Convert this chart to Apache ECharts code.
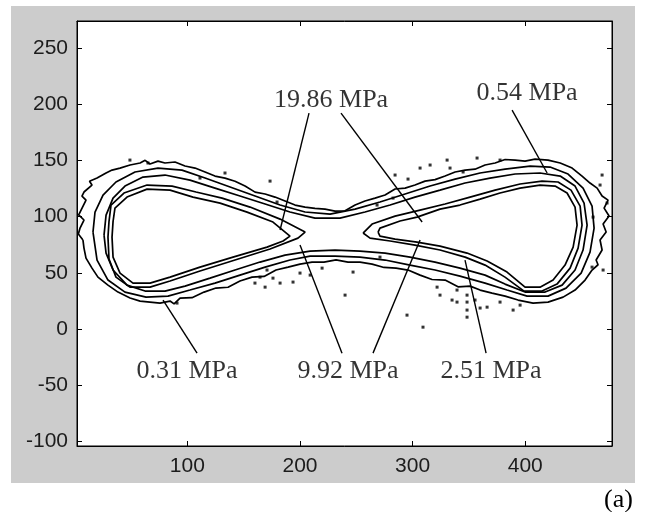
<!DOCTYPE html>
<html>
<head>
<meta charset="utf-8">
<script src="https://cdn.jsdelivr.net/npm/echarts@6/dist/echarts.min.js"></script>
<style>
  html, body { margin: 0; padding: 0; background: #ffffff; }
  #chart { width: 647px; height: 512px; }
</style>
</head>
<body>
<div id="chart"></div>
<script>
// Axis ticks
const xTicks = [100, 200, 300, 400];
const yTicks = [-100, -50, 0, 50, 100, 150, 200, 250];

// Iso-stress contours, [x, y] in image units
const contour031 = [
  [7.3,79.2],[3.2,84.5],[4.7,89.8],[8.2,97],[3.5,101.5],[5.6,105.8],[10,114.7],[6.4,118.2],[8.2,121.9],
  [15.3,128.1],[13.1,131.5],[19.8,134.3],[27.8,138.8],[33.1,141.4],[40.2,143.2],[49.1,145.9],[58,147.7],
  [62.5,150.1],[66.8,146.8],[73.9,149.4],[80.1,147.7],[89,148.6],[97.9,145],[106.8,143.2],[115.7,139.7],
  [124.5,136.1],[133.4,134.3],[142.3,131.5],[151.2,127.2],[160.1,121.8],[169,120.1],[177.8,117.4],
  [186.7,113.9],[195.6,110.3],[204.5,108.5],[213.3,107.4],[222.2,106.7],[231.1,104.9],[240,105.2],
  [248.9,110.3],[257.7,113.9],[266.6,116.5],[275.5,119.2],[284.4,124.6],[293.3,125.4],[302.1,128.1],
  [311,131.6],[319.9,132.9],[328.8,136.1],[337.7,139.7],[346.6,141.4],[355.4,142.2],[364.3,145.9],
  [373.2,147.7],[382.1,150.8],[391,150.3],[399.8,149.4],[408.7,151.2],[420.2,150.3],[431,147.7],
  [441.6,143.2],[450.4,136.1],[457.5,129.9],[463.8,125.4],[468.2,118.3],[473.5,114.7],[470,107.6],
  [474.4,100.5],[469.1,93.4],[471.8,86.3],[466.4,79.2],[468.2,70.3],[462.9,61.4],[464.6,57.2],
  [459.3,52.5],[453.1,43.6],[444.2,34.7],[433.6,28.4],[420.2,24],[406.9,23.1],[393.6,25.8],
  [382.1,29.3],[370.5,32],[359.9,34.7],[351,38.2],[340.3,37.6],[328.8,43.6],[317.2,44.1],
  [306.6,48],[295.9,52.5],[285.3,54.2],[274.6,54.8],[264,57.8],[253.3,59.6],[242.6,59.6],
  [232,61.5],[221.3,59.6],[210.7,59.6],[200,57.8],[189.4,55.1],[178.7,52.5],[168.1,46.8],
  [157.4,46.2],[146.7,42.7],[136.1,37.2],[125.4,36.5],[114.8,32.9],[104.1,27.9],[93.5,27.6],
  [88.2,22.4],[84.6,24.9],[75.7,23.1],[66.8,24],[58,24.9],[49.1,27.6],[38.4,32.9],[29.5,39.1],
  [20.6,46.2],[15.3,54.2],[10,63.1],[8.2,72]
];
const contour054 = [
  [16.2,86.3],[18,104.1],[25.1,119.2],[36.6,130.8],[53.5,139.7],[73.9,143.2],[95.2,141.4],
  [115.7,134.3],[137.9,126.3],[160.1,118.3],[182.3,110.3],[204.5,104.1],[226.7,102.3],
  [248.9,106.7],[271,113],[293.3,120.1],[315.5,127.2],[337.7,133.4],[359.9,138.8],[382.1,142.3],
  [404.3,145],[422,144.1],[438,137.9],[451.3,125.4],[459.3,109.4],[461.1,89.8],[457.5,68.5],
  [449.6,49.8],[436.2,36.4],[420.2,29.3],[401.6,29.3],[383.8,34.7],[364.3,40.9],[342,47.1],
  [319.9,52.5],[297.7,56.9],[275.5,61.4],[253.3,64],[231.1,64.9],[208.9,64.9],[191.1,61.4],
  [169,55.1],[146.7,48],[124.5,40.9],[102.3,34.7],[82.8,29.3],[63.3,28.4],[44.6,32.9],
  [29.5,43.6],[19.8,61.4]
];
const contour251 = [
  [26,83.6],[27.8,101.4],[34,116.5],[44.6,127.2],[60.6,135.2],[80.1,137],[102.3,132.5],
  [124.5,125.4],[146.7,118.3],[169,111.2],[191.1,104.1],[213.3,98.7],[235.5,98.7],[257.7,104.1],
  [280,110.3],[302.1,117.4],[324.3,123.6],[346.6,129.9],[368.7,134.3],[391,137.9],[413.1,138.8],
  [431,136.1],[444.2,127.2],[452.2,112.1],[454.9,92.5],[451.3,70.3],[444.2,52.5],[432.7,39.1],
  [417.6,32.9],[399.8,32.9],[382,40],[364.3,48],[342,54.2],[319.9,59.6],[297.7,64],[275.5,67.6],
  [253.3,69.4],[231.1,70.3],[208.9,69.4],[186.7,65.8],[164.5,59.6],[142.3,52.5],[120.1,45.3],
  [97.9,38.2],[80.1,33.8],[62.4,33.8],[46.4,39.1],[34,52.5],[27.8,67.6]
];
const contour992Left = [
  [30.4,95.6],[32.2,110.3],[43.7,121],[64.2,128.1],[86.4,127.2],[107.7,121.9],[130.8,116.5],
  [155.6,108.5],[182.3,97.8],[204.5,86.3],[198.2,80.9],[173.4,71.2],[142.3,61.4],[111.2,51.6],
  [84.6,42.7],[66.8,37.3],[49,37.3],[36.6,46.2],[30.4,62.3],[29.5,81.8]
];
const contour992Right = [
  [256,85.4],[264,93.4],[284.4,100.5],[306.6,105.8],[328.8,111.2],[351,117.4],[373.2,123.6],
  [395.4,129],[414.9,131.6],[429.1,130.8],[440.6,123.6],[448.7,109.4],[450.4,92.5],[446.9,72],
  [439.8,54.2],[428.2,40],[414.9,33.8],[398.9,33.8],[382,46.2],[364.3,56.9],[346.6,64],
  [324.3,70.3],[302.1,74.7],[280,78.3],[262.2,80.9]
];
const contour1986Left = [
  [34,95.6],[35.7,107.6],[46.4,117.4],[64.2,124.5],[84.6,123.6],[105,117.4],[129,112],
  [153,104],[176,95.2],[191.1,82.7],[185,78.3],[170.7,72.9],[140.5,64],[111.2,55.1],
  [84.6,46.2],[66.8,40.9],[51.7,40.9],[40.2,49.8],[34,64],[33.1,81.8]
];
const contour1986Right = [
  [269.3,86.3],[271,89.8],[288.8,96.1],[303.9,99.6],[324.3,106.7],[342,110.3],[359.9,115.6],
  [377.6,121],[395.4,125.4],[413.1,128.1],[426.5,127.2],[437.1,121],[444.2,108.5],[446,92.5],
  [442.5,72.9],[435.3,56.9],[424.7,43.6],[413.1,37.3],[399.8,37.3],[383.8,50.7],[366.1,60.5],
  [348.3,67.6],[324.3,73.8],[303.9,77.4],[284.4,80],[271,82.7]
];

// Isolated noisy pixels around the bands
const speckles = [
  [330.6,150.3],[333.2,143.2],[344.8,139.7],[357.2,152.1],[377.6,150.3],[295.9,133.4],
  [282.6,116.5],[268.4,110.3],[468.2,137],[460.2,99.6],[459.3,55.1],[339.4,24],[348.3,24],
  [348.3,16.9],[295,12.4],[240,30.2],[247.1,50.7],[309.2,1.7],[389.2,16.9],[366.1,19.5],
  [348.3,10.6],[321.7,37.3],[472.6,112.1],[271,64],[65,147.7],[173.4,131.6],[179.6,113],
  [111.2,134.3],[176,45.3],[182.3,40.9],[193.8,41.8],[200,49.8],[164.5,46.2],[90.8,23.1],
  [170.7,52.5],[339.4,34.7],[348.3,30.2],[359.9,18.7],
  [160,40.9],[169,37.3],[209,48],[219.6,54.2],[324.3,30.2],[335,25.8],[355.4,25.8],
  [377.6,24],[395.4,21.3],[284.4,137],[306.6,143.2],[315.5,145.9],[466.4,128.1],[469.1,52.5],
  [49,150.3],[133.4,138.8]
];

// Callouts: label text, label anchor, leader segments
const labelNames = ['19.86 MPa', '0.54 MPa', '0.31 MPa', '9.92 MPa', '2.51 MPa'];
const labelAnchors = [[227.6,203.7],[401.6,210],[99.7,-37.4],[242.6,-37.4],[369.6,-37.4]];
const leaders = [
  [[208,192.1],[182.3,88.1]],
  [[236.4,192.1],[308.4,95.2]],
  [[388.3,194.8],[419.4,138.8]],
  [[78.4,25.8],[108.6,-21.4]],
  [[200,74.7],[237.3,-21.4]],
  [[306.6,79.2],[264.8,-21.4]],
  [[346.5,61.4],[365.2,-21.4]]
];

const X_MIN = 2, X_MAX = 477, Y_MIN = -104, Y_MAX = 274;

function closed(pts) { return pts.concat([pts[0]]); }

const contourLine = (name, pts) => ({
  name, type: 'line', data: closed(pts), showSymbol: false, symbol: 'none',
  lineStyle: { color: '#000', width: 1.7 }, clip: true, silent: true, z: 3
});

const tickFont = { fontFamily: 'Liberation Sans, Arial, sans-serif', fontSize: 21, color: '#1c1c1c' };

const series = [
  contourLine('0.31', contour031),
  contourLine('0.54', contour054),
  contourLine('2.51', contour251),
  contourLine('9.92 L', contour992Left),
  contourLine('9.92 R', contour992Right),
  contourLine('19.86 L', contour1986Left),
  contourLine('19.86 R', contour1986Right),
  {
    name: 'noise', type: 'scatter', data: speckles, symbol: 'rect', symbolSize: 3,
    itemStyle: { color: '#000' }, silent: true, z: 3
  }
];
leaders.forEach((seg, i) => series.push({
  name: 'leader' + i, type: 'line', data: seg, showSymbol: false, symbol: 'none',
  lineStyle: { color: '#000', width: 1.4 }, silent: true, z: 4
}));
series.push({
  name: 'labels', type: 'scatter', symbolSize: 1,
  itemStyle: { color: 'rgba(0,0,0,0)' },
  data: labelNames.map((n, i) => ({ name: n, value: labelAnchors[i] })),
  label: {
    show: true, position: 'inside', formatter: '{b}', color: '#000',
    fontFamily: 'Liberation Serif, Times New Roman, serif', fontSize: 26
  },
  silent: true, z: 5
});

const frameAxis = (extra) => Object.assign({
  type: 'value',
  axisLine: { show: true, onZero: false, lineStyle: { color: '#000', width: 1 } },
  splitLine: { show: false }
}, extra);

const chart = echarts.init(document.getElementById('chart'), null, { renderer: 'canvas' });
chart.setOption({
  animation: false,
  backgroundColor: '#ffffff',
  title: {
    text: '(a)', left: 604, top: 487, padding: 0,
    textStyle: { fontFamily: 'Liberation Serif, Times New Roman, serif', fontSize: 26, fontWeight: 'normal', color: '#000' }
  },
  graphic: [{
    type: 'rect', z: -10, silent: true,
    shape: { x: 11, y: 6, width: 624, height: 477 },
    style: { fill: '#cccccc' }
  }],
  grid: {
    left: 77, top: 21, width: 535, height: 425, show: true,
    backgroundColor: '#ffffff', borderColor: '#000', borderWidth: 1
  },
  xAxis: [
    frameAxis({
      min: X_MIN, max: X_MAX, position: 'bottom',
      axisTick: { show: true, inside: true, length: 5, customValues: xTicks, lineStyle: { color: '#000' } },
      axisLabel: Object.assign({ customValues: xTicks, margin: 10 }, tickFont)
    }),
    frameAxis({
      min: X_MIN, max: X_MAX, position: 'top',
      axisTick: { show: true, inside: true, length: 5, customValues: xTicks, lineStyle: { color: '#000' } },
      axisLabel: { show: false }
    })
  ],
  yAxis: [
    frameAxis({
      min: Y_MIN, max: Y_MAX, position: 'left',
      axisTick: { show: true, inside: true, length: 5, customValues: yTicks, lineStyle: { color: '#000' } },
      axisLabel: Object.assign({ customValues: yTicks, margin: 9 }, tickFont)
    }),
    frameAxis({
      min: Y_MIN, max: Y_MAX, position: 'right',
      axisTick: { show: true, inside: true, length: 5, customValues: yTicks, lineStyle: { color: '#000' } },
      axisLabel: { show: false }
    })
  ],
  series
});
</script>
</body>
</html>
